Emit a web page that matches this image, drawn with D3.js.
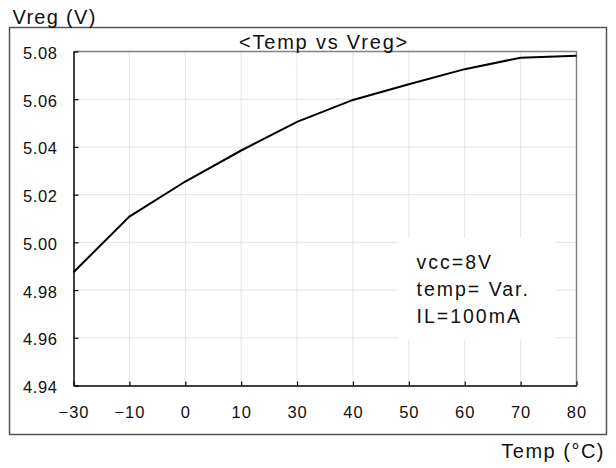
<!DOCTYPE html>
<html><head><meta charset="utf-8">
<script src="https://cdn.jsdelivr.net/npm/d3@7"></script>
<style>
html,body{margin:0;padding:0;background:#fff;}
svg text{font-family:"Liberation Sans",Arial,sans-serif;fill:#111;}
</style></head>
<body><svg id="c" width="616" height="468"></svg>
<script>
const categories = ["\u221230","\u221210","0","10","30","40","50","60","70","80"];
const vreg = [4.9875,5.0108,5.0255,5.0385,5.0505,5.0597,5.0663,5.0726,5.0774,5.0782];
const yTicks = [4.94,4.96,4.98,5.00,5.02,5.04,5.06,5.08];
const notes = ["vcc=8V","temp= Var.","IL=100mA"];
const title = "<Temp vs Vreg>";
const yTitle = "Vreg (V)";
const xTitle = "Temp (\u00B0C)";

const L = 73.5, R = 576.5, T = 51.5, B = 385.5;
const svg = d3.select("#c");
const x = d3.scalePoint().domain(categories).range([L, R]);
const y = d3.scaleLinear().domain([4.94, 5.08]).range([B, T]);

// outer frame
svg.append("rect").attr("x",9.5).attr("y",27.5).attr("width",597).attr("height",407)
  .attr("fill","none").attr("stroke","#555").attr("stroke-width",1.5);

// grid
const g = svg.append("g");
g.selectAll(".vg").data(categories.slice(1,-1)).join("line")
  .attr("x1",d=>x(d)).attr("x2",d=>x(d)).attr("y1",T).attr("y2",B)
  .attr("stroke","#e4e4e4").attr("stroke-width",1);
g.selectAll(".hg").data(yTicks.slice(1,-1)).join("line")
  .attr("x1",L).attr("x2",R).attr("y1",d=>y(d)).attr("y2",d=>y(d))
  .attr("stroke","#e4e4e4").attr("stroke-width",1);

// annotation box background
svg.append("rect").attr("x",398).attr("y",238).attr("width",157).attr("height",102).attr("fill","#fff");

// top/right border
svg.append("path").attr("d",`M${L},${T}H${R}V${B}`).attr("fill","none")
  .attr("stroke","#808080").attr("stroke-width",1.5);

// axes
const xAxis = d3.axisBottom(x).tickSizeInner(-4).tickSizeOuter(0).tickPadding(21);
const gx = svg.append("g").attr("transform",`translate(0,${B})`).call(xAxis);
gx.select(".domain").attr("stroke","#000").attr("stroke-width",1.5);
gx.selectAll(".tick line").attr("stroke","#000").attr("stroke-width",1.2);
gx.selectAll(".tick text").attr("font-size",16.5).attr("letter-spacing",1).attr("fill","#111")
  .attr("font-family","Liberation Sans, Arial, sans-serif");

const yAxis = d3.axisLeft(y).tickValues(yTicks).tickFormat(d3.format(".2f"))
  .tickSizeInner(-5).tickSizeOuter(0).tickPadding(16);
const gy = svg.append("g").attr("transform",`translate(${L},0)`).call(yAxis);
gy.select(".domain").attr("stroke","#000").attr("stroke-width",1.5);
gy.selectAll(".tick line").attr("stroke","#000").attr("stroke-width",1.2);
gy.selectAll(".tick text").attr("font-size",16.5).attr("letter-spacing",0.6).attr("fill","#111")
  .attr("dy","0.42em").attr("font-family","Liberation Sans, Arial, sans-serif");

// data line
svg.append("path").datum(vreg)
  .attr("d", d3.line().x((d,i)=>x(categories[i])).y(d=>y(d)))
  .attr("fill","none").attr("stroke","#000").attr("stroke-width",2);

// texts
svg.append("text").attr("x",324).attr("y",49).attr("text-anchor","middle")
  .attr("font-size",20).attr("letter-spacing",1.8).text(title);
svg.append("text").attr("x",12.5).attr("y",24).attr("font-size",20).attr("letter-spacing",1.3).text(yTitle);
svg.append("text").attr("x",605).attr("y",457.5).attr("text-anchor","end")
  .attr("font-size",20).attr("letter-spacing",1.5).text(xTitle);
svg.selectAll(".note").data(notes).join("text")
  .attr("x",416.5).attr("y",(d,i)=>269+i*27.2).attr("font-size",19.5).attr("letter-spacing",2)
  .text(d=>d);
</script></body></html>
